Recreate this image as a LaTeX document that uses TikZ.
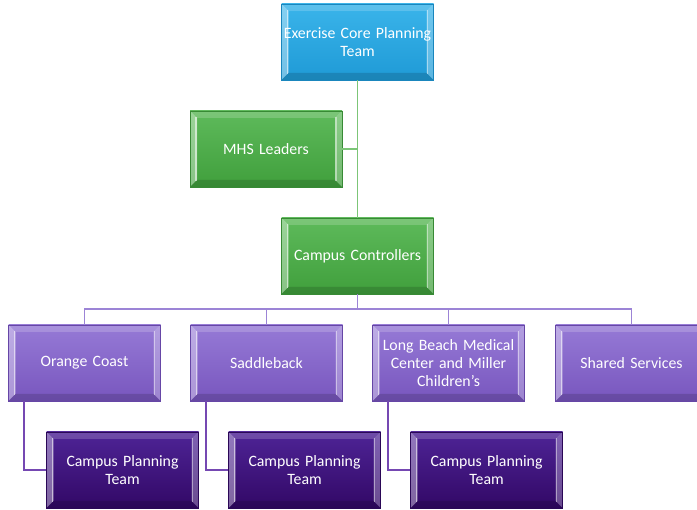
\documentclass[tikz,border=0pt]{standalone}
\usepackage{fontspec}
\setmainfont{Carlito}
\usetikzlibrary{calc}
\hyphenpenalty=10000
\exhyphenpenalty=10000

\definecolor{blueTop}{HTML}{3AB4EA}
\definecolor{blueBot}{HTML}{1F9AD6}
\definecolor{blueEdge}{HTML}{1A86BD}
\definecolor{greenTop}{HTML}{5EBA5B}
\definecolor{greenBot}{HTML}{409F3C}
\definecolor{greenEdge}{HTML}{388A35}
\definecolor{lilacTop}{HTML}{967AD6}
\definecolor{lilacBot}{HTML}{7856BE}
\definecolor{lilacEdge}{HTML}{6646A6}
\definecolor{plumTop}{HTML}{4E2496}
\definecolor{plumBot}{HTML}{320866}
\definecolor{plumEdge}{HTML}{2A0756}
\definecolor{greenLine}{HTML}{7CC577}
\definecolor{lilacLine}{HTML}{9C84D6}
\definecolor{plumLine}{HTML}{7548B2}

\tikzset{
  bevelbox/.style n args={3}{
    rectangle, minimum width=152pt, minimum height=76pt,
    inner xsep=-4pt, inner ysep=1pt,
    text width=160pt, align=center, text=white,
    font=\fontsize{15.8}{18}\selectfont,
    top color=#1, bottom color=#2, draw=#3, line width=0.6pt,
    path picture={
      \coordinate (nw) at (path picture bounding box.north west);
      \coordinate (ne) at (path picture bounding box.north east);
      \coordinate (sw) at (path picture bounding box.south west);
      \coordinate (se) at (path picture bounding box.south east);
      % top facet
      \fill[white, opacity=0.18] (nw) -- (ne) -- ($(ne)+(-7,-7)$) -- ($(nw)+(7,-7)$) -- cycle;
      % left facet
      \fill[white, opacity=0.38] (nw) -- ($(nw)+(7,-7)$) -- ($(sw)+(7,7)$) -- (sw) -- cycle;
      % right facet
      \fill[white, opacity=0.28] (ne) -- ($(ne)+(-7,-7)$) -- ($(se)+(-7,7)$) -- (se) -- cycle;
      % bottom facet
      \fill[black, opacity=0.14] (sw) -- ($(sw)+(7,7)$) -- ($(se)+(-7,7)$) -- (se) -- cycle;
      % highlight ridges along the side facets
      \draw[white, opacity=0.55, line width=1.4pt] ($(nw)+(6,-6)$) -- ($(sw)+(6,6)$);
      \draw[white, opacity=0.45, line width=1.2pt] ($(ne)+(-6,-6)$) -- ($(se)+(-6,6)$);
    }
  },
  bluebox/.style={bevelbox={blueTop}{blueBot}{blueEdge}},
  greenbox/.style={bevelbox={greenTop}{greenBot}{greenEdge}},
  lilacbox/.style={bevelbox={lilacTop}{lilacBot}{lilacEdge}},
  plumbox/.style={bevelbox={plumTop}{plumBot}{plumEdge}},
  greenlink/.style={draw=greenLine, line width=1.4pt},
  lilaclink/.style={draw=lilacLine, line width=1.4pt},
  plumlink/.style={draw=plumLine, line width=1.4pt},
}

\begin{document}
\begin{tikzpicture}[x=1pt, y=1pt]
  \clip (0,0) rectangle (697,-510);
  \fill[white] (0,0) rectangle (697,-510);

  % junction where the campus branches leave the controllers' trunk
  \coordinate (bar) at (357.5,-309);

  % boxes
  \node[bluebox]  (core) at (357.5,-42)  {Exercise Core Planning\\Team};
  \node[greenbox] (mhs)  at (266,-149)   {MHS Leaders};
  \node[greenbox] (ctrl) at (357.5,-256) {Campus Controllers};

  \node[lilacbox] (oc)  at (84.5,-363)  {Orange Coast};
  \node[lilacbox] (sb)  at (266.5,-363) {Saddleback};
  \node[lilacbox] (lb)  at (448.5,-363) {Long Beach Medical\\Center and Miller\\Children’s};
  \node[lilacbox] (ss)  at (631.5,-363) {Shared Services};

  \node[plumbox] (cp1) at (122.5,-470) {Campus Planning\\Team};
  \node[plumbox] (cp2) at (304.5,-470) {Campus Planning\\Team};
  \node[plumbox] (cp3) at (486.5,-470) {Campus Planning\\Team};

  % links
  \path[greenlink] (core.south) -- (ctrl.north);
  \path[greenlink] (mhs.east) -- (mhs.east -| core.south);

  \path[lilaclink] (ctrl.south) -- (bar);
  \path[lilaclink] (bar) -| (oc.north);
  \path[lilaclink] (bar) -| (sb.north);
  \path[lilaclink] (bar) -| (lb.north);
  \path[lilaclink] (bar) -| (ss.north);

  \path[plumlink] ([xshift=-60.5pt]oc.south) |- (cp1.west);
  \path[plumlink] ([xshift=-60.5pt]sb.south) |- (cp2.west);
  \path[plumlink] ([xshift=-60.5pt]lb.south) |- (cp3.west);
\end{tikzpicture}
\end{document}
